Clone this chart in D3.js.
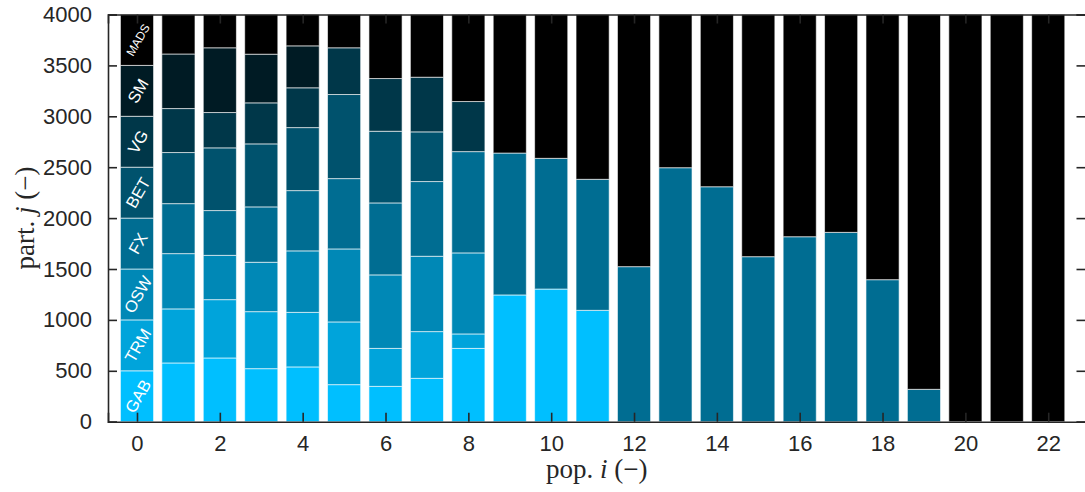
<!DOCTYPE html>
<html>
<head>
<meta charset="utf-8">
<script src="https://cdn.jsdelivr.net/npm/d3@7"></script>
<style>
  body { margin: 0; background: white; }
</style>
</head>
<body>
<script>
// population index on the x axis
let populations = d3.range(0, 23)

// one array per particle class, bottom to top of each stack
let categories = ['GAB', 'TRM', 'OSW', 'FX', 'BET', 'VG', 'SM', 'MADS']
let GAB  = [500, 577, 626, 521, 538, 364, 347, 426, 720, 1245, 1303, 1094, 0, 0, 0, 0, 0, 0, 0, 0, 0, 0, 0]
let TRM  = [500, 531, 573, 560, 536, 616, 373, 459, 142, 0, 0, 0, 0, 0, 0, 0, 0, 0, 0, 0, 0, 0, 0]
let OSW  = [500, 543, 435, 485, 604, 717, 722, 740, 796, 0, 0, 0, 0, 0, 0, 0, 0, 0, 0, 0, 0, 0, 0]
let FX   = [500, 491, 440, 544, 592, 691, 707, 734, 995, 1394, 1284, 1287, 1523, 2495, 2308, 1621, 1817, 1860, 1395, 318, 0, 0, 0]
let BET  = [500, 502, 616, 619, 619, 826, 704, 488, 0, 0, 0, 0, 0, 0, 0, 0, 0, 0, 0, 0, 0, 0, 0]
let VG   = [500, 432, 347, 403, 391, 459, 518, 537, 492, 0, 0, 0, 0, 0, 0, 0, 0, 0, 0, 0, 0, 0, 0]
let SM   = [500, 536, 636, 478, 412, 0, 0, 0, 0, 0, 0, 0, 0, 0, 0, 0, 0, 0, 0, 0, 0, 0, 0]
let MADS = [500, 388, 327, 390, 308, 327, 629, 616, 855, 1361, 1413, 1619, 2477, 1505, 1692, 2379, 2183, 2140, 2605, 3682, 4000, 4000, 4000]

let xTicks = [0, 2, 4, 6, 8, 10, 12, 14, 16, 18, 20, 22]
let yTicks = [0, 500, 1000, 1500, 2000, 2500, 3000, 3500, 4000]

let colors = ['#00bfff', '#00a4db', '#0088b6', '#006d92', '#00526d', '#003749', '#001b24', '#000000']

let width = 1085, height = 492
let plotLeft = 108, plotRight = 1085.5, plotTop = 14.5, plotBottom = 421.7
let axisColor = '#262626'
let tickFont = '"Liberation Sans", Arial, Helvetica, sans-serif'
let labelFont = '"Liberation Serif", "Times New Roman", serif'

let series = {GAB, TRM, OSW, FX, BET, VG, SM, MADS}
let table = populations.map((p, i) => {
    let row = {pop: p}
    categories.forEach(c => row[c] = series[c][i])
    return row
})
let stacked = d3.stack().keys(categories)(table)

let svgContainer = d3.select("body").append("svg")
                                    .attr("width", width)
                                    .attr("height", height)

svgContainer.append('rect')
            .attr('width', '100%')
            .attr('height', '100%')
            .attr('fill', 'white')

let x = d3.scaleLinear().domain([-0.7, 22.9]).range([plotLeft, plotRight])
let y = d3.scaleLinear().domain([0, 4000]).range([plotBottom, plotTop])
let barWidth = x(0.8) - x(0)

// stacked bars
let layers = svgContainer.append('g')
                        .selectAll('g')
                        .data(stacked)
                        .join('g')
                        .attr('fill', (d, i) => colors[i])

layers.selectAll('rect')
    .data(d => d.filter(s => s[1] - s[0] > 0))
    .join('rect')
    .attr('x', d => x(d.data.pop) - barWidth / 2)
    .attr('y', d => y(d[1]))
    .attr('width', barWidth)
    .attr('height', d => y(d[0]) - y(d[1]))
    .attr('stroke', 'white')
    .attr('stroke-opacity', 0.6)
    .attr('stroke-width', 1)

// class names written inside bar 0
let labels = svgContainer.append('g')
labels.selectAll('text')
    .data(stacked)
    .join('text')
    .attr('transform', d => {
        let s = d[0]
        return 'translate(' + (x(s.data.pop) + 1) + ',' + y((s[0] + s[1]) / 2) + ') rotate(-60)'
    })
    .attr('text-anchor', 'middle')
    .attr('dy', '0.35em')
    .attr('fill', 'white')
    .attr('font-family', tickFont)
    .attr('font-size', d => d.key === 'MADS' ? '12px' : '16.5px')
    .text(d => d.key)

// box and axes
let axes = svgContainer.append('g')

let bottomAxis = axes.append('g')
                    .attr('transform', 'translate(0,' + plotBottom + ')')
                    .call(d3.axisBottom(x).tickValues(xTicks).tickSize(-9).tickPadding(14))
let topAxis = axes.append('g')
                    .attr('transform', 'translate(0,' + plotTop + ')')
                    .call(d3.axisTop(x).tickValues(xTicks).tickSize(-9).tickFormat(''))
let leftAxis = axes.append('g')
                    .attr('transform', 'translate(' + plotLeft + ',0)')
                    .call(d3.axisLeft(y).tickValues(yTicks).tickSize(-9).tickPadding(16).tickFormat(d3.format('d')))
let rightAxis = axes.append('g')
                    .attr('transform', 'translate(' + plotRight + ',0)')
                    .call(d3.axisRight(y).tickValues(yTicks).tickSize(-9).tickFormat(''))

axes.selectAll('.domain')
    .attr('stroke', axisColor)
    .attr('stroke-width', 1.6)
axes.selectAll('.tick line')
    .attr('stroke', axisColor)
    .attr('stroke-width', 1.6)
axes.selectAll('.tick text')
    .attr('fill', axisColor)
    .attr('font-family', tickFont)
    .attr('font-size', '22px')

// axis titles
let xTitle = svgContainer.append('text')
                        .attr('x', (plotLeft + plotRight) / 2)
                        .attr('y', 478)
                        .attr('text-anchor', 'middle')
                        .attr('fill', axisColor)
                        .attr('font-family', labelFont)
                        .attr('font-size', '27px')
xTitle.append('tspan').text('pop. ')
xTitle.append('tspan').attr('font-style', 'italic').text('i')
xTitle.append('tspan').text(' (\u2212)')

let yTitle = svgContainer.append('text')
                        .attr('transform', 'translate(34,' + (plotTop + plotBottom) / 2 + ') rotate(-90)')
                        .attr('text-anchor', 'middle')
                        .attr('fill', axisColor)
                        .attr('font-family', labelFont)
                        .attr('font-size', '27px')
yTitle.append('tspan').text('part. ')
yTitle.append('tspan').attr('font-style', 'italic').text('j')
yTitle.append('tspan').text(' (\u2212)')
</script>
</body>
</html>
